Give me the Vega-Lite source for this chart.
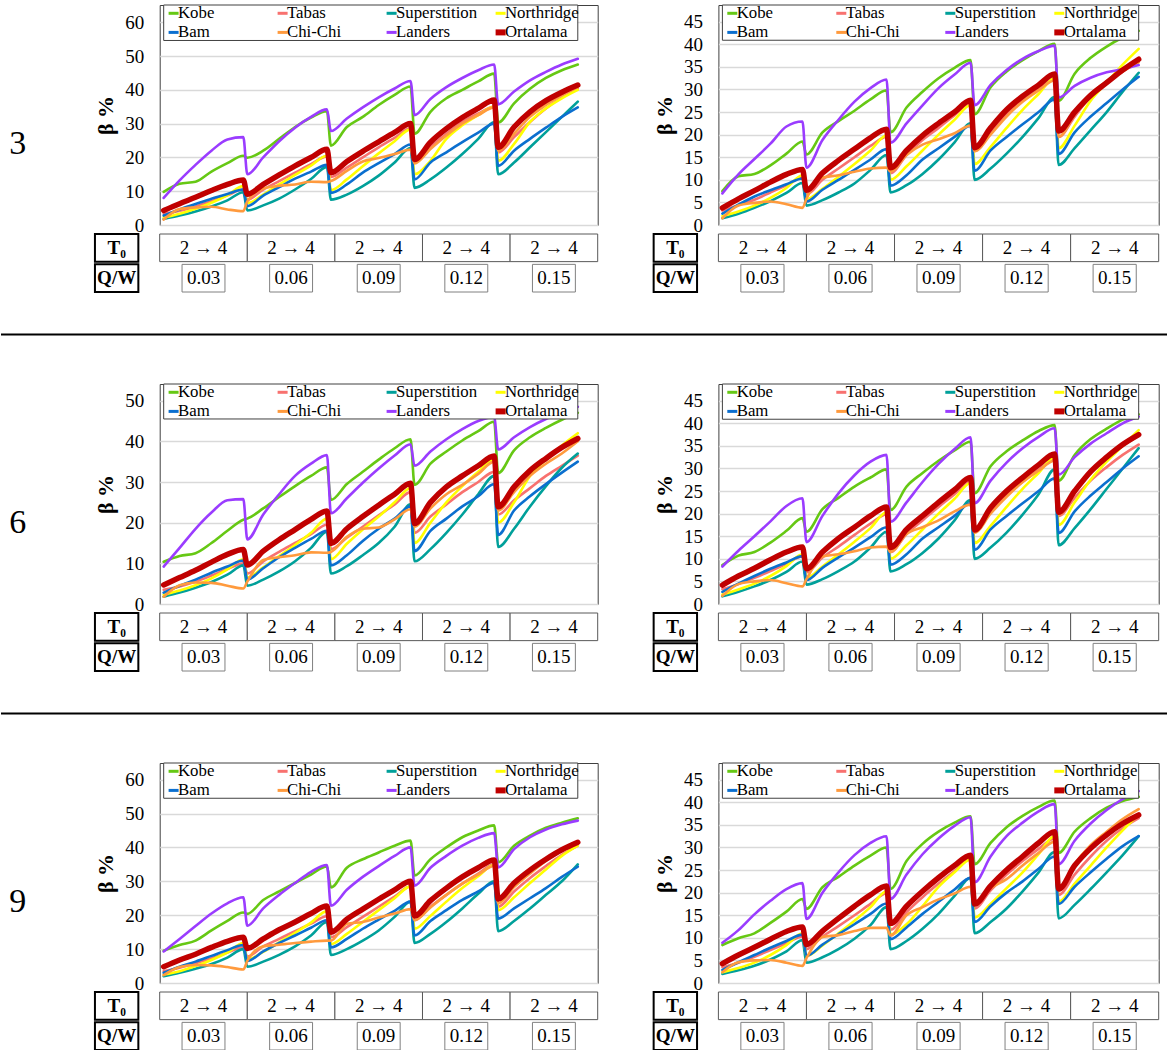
{
  "$schema": "https://vega.github.io/schema/vega-lite/v6.json",
  "padding": {"left": 0, "top": 2, "right": 0, "bottom": 0},
  "background": "white",
  "config": {
    "font": "Liberation Serif",
    "view": {"stroke": null},
    "axis": {
      "labelFont": "Liberation Serif", "labelFontSize": 19, "labelColor": "black", "labelOverlap": false,
      "titleFont": "Liberation Serif", "titleFontSize": 22, "titleFontWeight": "bold", "titleColor": "black",
      "domain": false, "ticks": false, "tickSize": 0, "labelPadding": 16, "titlePadding": 7,
      "gridColor": "#d9d9d9", "gridWidth": 1.3
    },
    "legend": {
      "symbolType": "stroke", "symbolSize": 100, "symbolStrokeWidth": 3,
      "labelFont": "Liberation Serif", "labelFontSize": 16.8, "labelColor": "black", "labelLimit": 0
    },
    "text": {"font": "Liberation Serif", "color": "black"}
  },
  "datasets": {
    "cases": [
      {"row": "T0", "qw": "0.03", "label": "2 → 4"},
      {"row": "T0", "qw": "0.06", "label": "2 → 4"},
      {"row": "T0", "qw": "0.09", "label": "2 → 4"},
      {"row": "T0", "qw": "0.12", "label": "2 → 4"},
      {"row": "T0", "qw": "0.15", "label": "2 → 4"},
      {"row": "Q/W", "qw": "0.03", "label": "0.03"},
      {"row": "Q/W", "qw": "0.06", "label": "0.06"},
      {"row": "Q/W", "qw": "0.09", "label": "0.09"},
      {"row": "Q/W", "qw": "0.12", "label": "0.12"},
      {"row": "Q/W", "qw": "0.15", "label": "0.15"}
    ],
    "n3_left": [
      {"run":1,"Kobe":9.8,"Tabas":3.3,"Superstition":1.8,"Northridge":2.2,"Bam":2.8,"Chi-Chi":1.6,"Landers":8,"Ortalama":4.3},
      {"run":5,"Kobe":12.2,"Tabas":4.2,"Superstition":2.8,"Northridge":3.3,"Bam":4.6,"Chi-Chi":4.7,"Landers":13.2,"Ortalama":6.3},
      {"run":9,"Kobe":12.8,"Tabas":5.5,"Superstition":4,"Northridge":4.8,"Bam":6.2,"Chi-Chi":5.2,"Landers":17.8,"Ortalama":8.2},
      {"run":13,"Kobe":15.8,"Tabas":7,"Superstition":5.5,"Northridge":6.6,"Bam":7.8,"Chi-Chi":5.4,"Landers":22,"Ortalama":10.2},
      {"run":17,"Kobe":18.3,"Tabas":8.8,"Superstition":7.3,"Northridge":8.8,"Bam":9.2,"Chi-Chi":4.6,"Landers":25.3,"Ortalama":12},
      {"run":21,"Kobe":20.5,"Tabas":10.5,"Superstition":9.7,"Northridge":11.5,"Bam":10.5,"Chi-Chi":4.1,"Landers":26,"Ortalama":13.3},
      {"run":22,"Kobe":19.9,"Tabas":7.5,"Superstition":4.3,"Northridge":6.5,"Bam":5.6,"Chi-Chi":7,"Landers":15,"Ortalama":9.1},
      {"run":26,"Kobe":22,"Tabas":10.5,"Superstition":5.8,"Northridge":9,"Bam":8.7,"Chi-Chi":10.8,"Landers":20,"Ortalama":12},
      {"run":30,"Kobe":25.5,"Tabas":13,"Superstition":7.8,"Northridge":12,"Bam":11.2,"Chi-Chi":11.6,"Landers":24.8,"Ortalama":14.8},
      {"run":34,"Kobe":29,"Tabas":15.5,"Superstition":10.5,"Northridge":14.8,"Bam":13.7,"Chi-Chi":12,"Landers":28.8,"Ortalama":17.5},
      {"run":38,"Kobe":31.8,"Tabas":18,"Superstition":13.6,"Northridge":17.6,"Bam":15.8,"Chi-Chi":12.8,"Landers":32,"Ortalama":20},
      {"run":42,"Kobe":33.7,"Tabas":20.3,"Superstition":17.2,"Northridge":20.5,"Bam":17.8,"Chi-Chi":12.7,"Landers":34.2,"Ortalama":22.4},
      {"run":43,"Kobe":23.5,"Tabas":14.2,"Superstition":7.5,"Northridge":10.3,"Bam":9.5,"Chi-Chi":13,"Landers":27.8,"Ortalama":15.5},
      {"run":47,"Kobe":29,"Tabas":17,"Superstition":9,"Northridge":13.5,"Bam":12,"Chi-Chi":16,"Landers":31.5,"Ortalama":18.8},
      {"run":51,"Kobe":32,"Tabas":20,"Superstition":11.5,"Northridge":17.4,"Bam":15.5,"Chi-Chi":18.8,"Landers":34.8,"Ortalama":21.8},
      {"run":55,"Kobe":35.5,"Tabas":23,"Superstition":14.6,"Northridge":21.2,"Bam":18.3,"Chi-Chi":19.8,"Landers":37.8,"Ortalama":24.6},
      {"run":59,"Kobe":38.5,"Tabas":25.8,"Superstition":18.5,"Northridge":24.8,"Bam":21,"Chi-Chi":21,"Landers":40.4,"Ortalama":27.4},
      {"run":63,"Kobe":41,"Tabas":28.6,"Superstition":22.8,"Northridge":28.3,"Bam":23.8,"Chi-Chi":22.3,"Landers":42.6,"Ortalama":30},
      {"run":64,"Kobe":27,"Tabas":18.5,"Superstition":11,"Northridge":15,"Bam":13.5,"Chi-Chi":18.2,"Landers":32.5,"Ortalama":19.4},
      {"run":68,"Kobe":33.5,"Tabas":23,"Superstition":13.5,"Northridge":19,"Bam":18.5,"Chi-Chi":22.5,"Landers":37.3,"Ortalama":24.5},
      {"run":72,"Kobe":37.5,"Tabas":27,"Superstition":17,"Northridge":25.5,"Bam":21.5,"Chi-Chi":26.5,"Landers":40.8,"Ortalama":28.5},
      {"run":76,"Kobe":40,"Tabas":30.5,"Superstition":21,"Northridge":29.5,"Bam":24.5,"Chi-Chi":30,"Landers":43.5,"Ortalama":31.8},
      {"run":80,"Kobe":42.5,"Tabas":33,"Superstition":25.5,"Northridge":32.5,"Bam":27.3,"Chi-Chi":32.5,"Landers":45.8,"Ortalama":34.5},
      {"run":84,"Kobe":44.8,"Tabas":35,"Superstition":30.5,"Northridge":35,"Bam":30,"Chi-Chi":34.8,"Landers":47.5,"Ortalama":37},
      {"run":85,"Kobe":30.3,"Tabas":21.5,"Superstition":15,"Northridge":19,"Bam":17.5,"Chi-Chi":22,"Landers":35.7,"Ortalama":23},
      {"run":89,"Kobe":36,"Tabas":26,"Superstition":18.5,"Northridge":24,"Bam":22,"Chi-Chi":27,"Landers":39.5,"Ortalama":29},
      {"run":93,"Kobe":40.3,"Tabas":30.5,"Superstition":23,"Northridge":30.5,"Bam":25.5,"Chi-Chi":32,"Landers":42.8,"Ortalama":33.5},
      {"run":97,"Kobe":43.5,"Tabas":34.5,"Superstition":27.5,"Northridge":34.5,"Bam":28.8,"Chi-Chi":35.5,"Landers":45.3,"Ortalama":36.8},
      {"run":101,"Kobe":45.8,"Tabas":37.8,"Superstition":32,"Northridge":37.5,"Bam":32,"Chi-Chi":38.5,"Landers":47.5,"Ortalama":39.3},
      {"run":105,"Kobe":47.5,"Tabas":40.3,"Superstition":36.5,"Northridge":40,"Bam":34.8,"Chi-Chi":40.8,"Landers":49.2,"Ortalama":41.4}
    ],
    "n3_right": [
      {"run":1,"Kobe":7.5,"Tabas":3.2,"Superstition":1.5,"Northridge":2,"Bam":2.5,"Chi-Chi":1.5,"Landers":7,"Ortalama":3.8},
      {"run":5,"Kobe":10.8,"Tabas":4.4,"Superstition":2.5,"Northridge":3,"Bam":4.5,"Chi-Chi":4.3,"Landers":11.2,"Ortalama":5.8},
      {"run":9,"Kobe":11.3,"Tabas":5.6,"Superstition":3.8,"Northridge":4.3,"Bam":6.3,"Chi-Chi":4.9,"Landers":14.6,"Ortalama":7.6},
      {"run":13,"Kobe":13.2,"Tabas":7.2,"Superstition":5.3,"Northridge":6,"Bam":7.7,"Chi-Chi":5.2,"Landers":18,"Ortalama":9.5},
      {"run":17,"Kobe":15.8,"Tabas":8.8,"Superstition":7.1,"Northridge":8.2,"Bam":9,"Chi-Chi":4.6,"Landers":21.8,"Ortalama":11.2},
      {"run":21,"Kobe":18.5,"Tabas":10.4,"Superstition":9.3,"Northridge":11,"Bam":10.3,"Chi-Chi":3.8,"Landers":22.9,"Ortalama":12.3},
      {"run":22,"Kobe":15.6,"Tabas":6.8,"Superstition":4.3,"Northridge":5.7,"Bam":5.2,"Chi-Chi":5.8,"Landers":12.7,"Ortalama":7.7},
      {"run":26,"Kobe":20.5,"Tabas":10,"Superstition":5.5,"Northridge":8,"Bam":7.8,"Chi-Chi":10.5,"Landers":18.8,"Ortalama":11.5},
      {"run":30,"Kobe":23,"Tabas":12.5,"Superstition":7.2,"Northridge":10.7,"Bam":10,"Chi-Chi":11,"Landers":23.3,"Ortalama":14.3},
      {"run":34,"Kobe":25.3,"Tabas":15,"Superstition":9.2,"Northridge":13.5,"Bam":12.2,"Chi-Chi":11.8,"Landers":27.3,"Ortalama":16.8},
      {"run":38,"Kobe":27.8,"Tabas":17.5,"Superstition":12.2,"Northridge":16.5,"Bam":14.5,"Chi-Chi":12.5,"Landers":30.3,"Ortalama":19.3},
      {"run":42,"Kobe":29.8,"Tabas":19.5,"Superstition":15.5,"Northridge":19.8,"Bam":16.8,"Chi-Chi":12.7,"Landers":32.2,"Ortalama":21.2},
      {"run":43,"Kobe":20.5,"Tabas":11.5,"Superstition":7.2,"Northridge":10,"Bam":8.7,"Chi-Chi":11.8,"Landers":18.2,"Ortalama":12.7},
      {"run":47,"Kobe":26,"Tabas":15.5,"Superstition":8.8,"Northridge":13,"Bam":11,"Chi-Chi":15.5,"Landers":22.5,"Ortalama":16.5},
      {"run":51,"Kobe":29.5,"Tabas":18.8,"Superstition":11.3,"Northridge":16.5,"Bam":14.5,"Chi-Chi":17.8,"Landers":26.5,"Ortalama":19.8},
      {"run":55,"Kobe":32.5,"Tabas":21.5,"Superstition":14.5,"Northridge":20,"Bam":17,"Chi-Chi":19,"Landers":30.3,"Ortalama":22.5},
      {"run":59,"Kobe":34.8,"Tabas":24.3,"Superstition":18.3,"Northridge":23.3,"Bam":19.5,"Chi-Chi":20.3,"Landers":33.3,"Ortalama":25},
      {"run":63,"Kobe":36.5,"Tabas":27,"Superstition":22.5,"Northridge":26.5,"Bam":22,"Chi-Chi":22,"Landers":35.9,"Ortalama":27.6},
      {"run":64,"Kobe":24.5,"Tabas":16.5,"Superstition":10,"Northridge":13.5,"Bam":12,"Chi-Chi":16.3,"Landers":26.5,"Ortalama":17.1},
      {"run":68,"Kobe":30.5,"Tabas":20.5,"Superstition":12.5,"Northridge":17.3,"Bam":16.5,"Chi-Chi":20,"Landers":31,"Ortalama":21.5},
      {"run":72,"Kobe":34,"Tabas":24.5,"Superstition":15.8,"Northridge":21.5,"Bam":19.5,"Chi-Chi":24,"Landers":34.3,"Ortalama":25.5},
      {"run":76,"Kobe":36.5,"Tabas":27.5,"Superstition":19.5,"Northridge":25.5,"Bam":22.3,"Chi-Chi":27.3,"Landers":36.8,"Ortalama":28.5},
      {"run":80,"Kobe":38.5,"Tabas":30,"Superstition":23.7,"Northridge":29,"Bam":25,"Chi-Chi":29.8,"Landers":38.5,"Ortalama":31},
      {"run":84,"Kobe":40.1,"Tabas":32.3,"Superstition":28.3,"Northridge":32.5,"Bam":27.8,"Chi-Chi":32,"Landers":39.7,"Ortalama":33.4},
      {"run":85,"Kobe":27.5,"Tabas":19.5,"Superstition":13.3,"Northridge":17,"Bam":15.7,"Chi-Chi":19.5,"Landers":28.2,"Ortalama":20.8},
      {"run":89,"Kobe":33.5,"Tabas":24,"Superstition":17,"Northridge":22,"Bam":20.5,"Chi-Chi":24.5,"Landers":30.8,"Ortalama":25},
      {"run":93,"Kobe":37,"Tabas":28.5,"Superstition":21,"Northridge":27.5,"Bam":24,"Chi-Chi":29,"Landers":32.6,"Ortalama":28.7},
      {"run":97,"Kobe":39.5,"Tabas":31.3,"Superstition":25,"Northridge":31.5,"Bam":27,"Chi-Chi":31.8,"Landers":33.8,"Ortalama":31.5},
      {"run":101,"Kobe":41.5,"Tabas":34,"Superstition":29.5,"Northridge":35.5,"Bam":30,"Chi-Chi":34,"Landers":34.5,"Ortalama":34.3},
      {"run":105,"Kobe":43,"Tabas":36.2,"Superstition":33.7,"Northridge":39,"Bam":32.8,"Chi-Chi":36,"Landers":35.4,"Ortalama":36.7}
    ],
    "n6_left": [
      {"run":1,"Kobe":10.4,"Tabas":3.5,"Superstition":1.8,"Northridge":2.3,"Bam":2.8,"Chi-Chi":1.8,"Landers":9.2,"Ortalama":4.7},
      {"run":5,"Kobe":11.8,"Tabas":4.3,"Superstition":2.8,"Northridge":3.3,"Bam":4.5,"Chi-Chi":4.6,"Landers":13.8,"Ortalama":6.5},
      {"run":9,"Kobe":12.5,"Tabas":5.5,"Superstition":4,"Northridge":4.6,"Bam":6,"Chi-Chi":5.3,"Landers":18.5,"Ortalama":8.3},
      {"run":13,"Kobe":15,"Tabas":7,"Superstition":5.4,"Northridge":6.3,"Bam":7.7,"Chi-Chi":5.2,"Landers":22.5,"Ortalama":10.3},
      {"run":17,"Kobe":18,"Tabas":8.6,"Superstition":7.2,"Northridge":8.5,"Bam":9.2,"Chi-Chi":4.5,"Landers":25.5,"Ortalama":12.2},
      {"run":21,"Kobe":20.7,"Tabas":10,"Superstition":9.5,"Northridge":11,"Bam":10.7,"Chi-Chi":3.8,"Landers":25.8,"Ortalama":13.4},
      {"run":22,"Kobe":21,"Tabas":7.5,"Superstition":4.5,"Northridge":6.5,"Bam":6,"Chi-Chi":5.5,"Landers":15.9,"Ortalama":9.6},
      {"run":26,"Kobe":23.5,"Tabas":10.5,"Superstition":6,"Northridge":9,"Bam":8.8,"Chi-Chi":10.8,"Landers":22,"Ortalama":13},
      {"run":30,"Kobe":26.3,"Tabas":12.8,"Superstition":8,"Northridge":11.8,"Bam":11.5,"Chi-Chi":11.5,"Landers":27,"Ortalama":15.8},
      {"run":34,"Kobe":29,"Tabas":15,"Superstition":10.5,"Northridge":14.5,"Bam":13.8,"Chi-Chi":12,"Landers":31.5,"Ortalama":18.3},
      {"run":38,"Kobe":31.5,"Tabas":17.2,"Superstition":13.8,"Northridge":17.5,"Bam":16,"Chi-Chi":12.7,"Landers":34.5,"Ortalama":20.8},
      {"run":42,"Kobe":33.6,"Tabas":19.5,"Superstition":17.8,"Northridge":21,"Bam":18,"Chi-Chi":12.6,"Landers":36.6,"Ortalama":22.9},
      {"run":43,"Kobe":25.6,"Tabas":13.5,"Superstition":7.5,"Northridge":11,"Bam":9.5,"Chi-Chi":12.8,"Landers":22.3,"Ortalama":14.9},
      {"run":47,"Kobe":29.5,"Tabas":16.3,"Superstition":9.3,"Northridge":14.8,"Bam":12,"Chi-Chi":16.5,"Landers":26,"Ortalama":18.5},
      {"run":51,"Kobe":32.5,"Tabas":19,"Superstition":12,"Northridge":18.3,"Bam":15.5,"Chi-Chi":18.5,"Landers":29.8,"Ortalama":21.5},
      {"run":55,"Kobe":35.5,"Tabas":21.8,"Superstition":15,"Northridge":21.5,"Bam":18.5,"Chi-Chi":18.8,"Landers":33.3,"Ortalama":24.3},
      {"run":59,"Kobe":38.3,"Tabas":24.5,"Superstition":19,"Northridge":25,"Bam":21,"Chi-Chi":20.8,"Landers":36.5,"Ortalama":27},
      {"run":63,"Kobe":40.5,"Tabas":27.5,"Superstition":24.5,"Northridge":28.5,"Bam":24,"Chi-Chi":23.3,"Landers":39.3,"Ortalama":29.7},
      {"run":64,"Kobe":29.3,"Tabas":17.5,"Superstition":10.5,"Northridge":15,"Bam":13,"Chi-Chi":19,"Landers":34,"Ortalama":19.8},
      {"run":68,"Kobe":34.5,"Tabas":21.5,"Superstition":13.5,"Northridge":20,"Bam":18,"Chi-Chi":23.5,"Landers":37.5,"Ortalama":25},
      {"run":72,"Kobe":37.5,"Tabas":24.5,"Superstition":17.5,"Northridge":25,"Bam":21,"Chi-Chi":27,"Landers":40.5,"Ortalama":28.8},
      {"run":76,"Kobe":40.2,"Tabas":27.5,"Superstition":22,"Northridge":29,"Bam":24,"Chi-Chi":29.3,"Landers":43,"Ortalama":31.5},
      {"run":80,"Kobe":42.5,"Tabas":30,"Superstition":27,"Northridge":32.5,"Bam":26.5,"Chi-Chi":32,"Landers":45,"Ortalama":34},
      {"run":84,"Kobe":44.8,"Tabas":32.5,"Superstition":31.5,"Northridge":35.5,"Bam":29.5,"Chi-Chi":35,"Landers":46,"Ortalama":36.4},
      {"run":85,"Kobe":32.2,"Tabas":22,"Superstition":14,"Northridge":20,"Bam":17,"Chi-Chi":23,"Landers":38,"Ortalama":23.9},
      {"run":89,"Kobe":37.8,"Tabas":25.5,"Superstition":18.5,"Northridge":25,"Bam":23,"Chi-Chi":27.5,"Landers":41,"Ortalama":28.8},
      {"run":93,"Kobe":41,"Tabas":28.5,"Superstition":24,"Northridge":31.5,"Bam":26.5,"Chi-Chi":31.5,"Landers":43.5,"Ortalama":32.8},
      {"run":97,"Kobe":43.3,"Tabas":31.5,"Superstition":29,"Northridge":35.5,"Bam":29.5,"Chi-Chi":34.5,"Landers":45.5,"Ortalama":35.8},
      {"run":101,"Kobe":45.3,"Tabas":34,"Superstition":33.5,"Northridge":39,"Bam":32.3,"Chi-Chi":37,"Landers":47,"Ortalama":38.5},
      {"run":105,"Kobe":47,"Tabas":36.5,"Superstition":37,"Northridge":42,"Bam":35,"Chi-Chi":40,"Landers":48.5,"Ortalama":40.7}
    ],
    "n6_right": [
      {"run":1,"Kobe":8.6,"Tabas":3.3,"Superstition":1.7,"Northridge":2.1,"Bam":2.7,"Chi-Chi":1.8,"Landers":8.3,"Ortalama":4.2},
      {"run":5,"Kobe":10.7,"Tabas":4.4,"Superstition":2.7,"Northridge":3.2,"Bam":4.5,"Chi-Chi":4.4,"Landers":11.8,"Ortalama":6.2},
      {"run":9,"Kobe":11.5,"Tabas":5.8,"Superstition":3.9,"Northridge":4.5,"Bam":6.2,"Chi-Chi":5,"Landers":15,"Ortalama":7.9},
      {"run":13,"Kobe":13.6,"Tabas":7.3,"Superstition":5.3,"Northridge":6.2,"Bam":7.8,"Chi-Chi":5.3,"Landers":18.3,"Ortalama":9.8},
      {"run":17,"Kobe":16.2,"Tabas":8.9,"Superstition":7.1,"Northridge":8.4,"Bam":9.2,"Chi-Chi":4.6,"Landers":21.7,"Ortalama":11.5},
      {"run":21,"Kobe":19,"Tabas":10.5,"Superstition":9.4,"Northridge":11,"Bam":10.6,"Chi-Chi":3.9,"Landers":23.4,"Ortalama":12.6},
      {"run":22,"Kobe":16,"Tabas":7,"Superstition":4.3,"Northridge":5.8,"Bam":5.3,"Chi-Chi":5.5,"Landers":13.7,"Ortalama":7.8},
      {"run":26,"Kobe":21,"Tabas":10.3,"Superstition":5.5,"Northridge":8.3,"Bam":8,"Chi-Chi":10.5,"Landers":19.5,"Ortalama":11.5},
      {"run":30,"Kobe":23.5,"Tabas":12.7,"Superstition":7.3,"Northridge":11,"Bam":10.3,"Chi-Chi":11,"Landers":24.5,"Ortalama":14.5},
      {"run":34,"Kobe":26,"Tabas":15.3,"Superstition":9.4,"Northridge":13.8,"Bam":12.5,"Chi-Chi":11.7,"Landers":28.5,"Ortalama":17},
      {"run":38,"Kobe":28,"Tabas":17.8,"Superstition":12.5,"Northridge":16.8,"Bam":14.8,"Chi-Chi":12.5,"Landers":31.5,"Ortalama":19.5},
      {"run":42,"Kobe":29.8,"Tabas":19.8,"Superstition":16,"Northridge":20.3,"Bam":17,"Chi-Chi":12.7,"Landers":33,"Ortalama":21.5},
      {"run":43,"Kobe":20.8,"Tabas":11.5,"Superstition":7.2,"Northridge":10,"Bam":8.7,"Chi-Chi":11.5,"Landers":18.2,"Ortalama":12.5},
      {"run":47,"Kobe":26,"Tabas":15.5,"Superstition":8.8,"Northridge":13,"Bam":11,"Chi-Chi":15.5,"Landers":22.5,"Ortalama":16.5},
      {"run":51,"Kobe":29,"Tabas":18.5,"Superstition":11.3,"Northridge":16.5,"Bam":14.5,"Chi-Chi":17,"Landers":27,"Ortalama":19.5},
      {"run":55,"Kobe":31.7,"Tabas":21.5,"Superstition":14.5,"Northridge":20,"Bam":17,"Chi-Chi":18.5,"Landers":31,"Ortalama":22.5},
      {"run":59,"Kobe":34,"Tabas":24.3,"Superstition":18.5,"Northridge":23.3,"Bam":19.5,"Chi-Chi":20.5,"Landers":34.3,"Ortalama":25.3},
      {"run":63,"Kobe":35.9,"Tabas":27.3,"Superstition":23,"Northridge":26.8,"Bam":22.3,"Chi-Chi":22,"Landers":36.9,"Ortalama":28},
      {"run":64,"Kobe":24.5,"Tabas":16,"Superstition":10,"Northridge":13.5,"Bam":12,"Chi-Chi":15.8,"Landers":22.3,"Ortalama":16.4},
      {"run":68,"Kobe":30.5,"Tabas":20.3,"Superstition":12.5,"Northridge":17.3,"Bam":16.5,"Chi-Chi":20,"Landers":27.3,"Ortalama":21.3},
      {"run":72,"Kobe":33.8,"Tabas":24,"Superstition":15.8,"Northridge":21.5,"Bam":19.5,"Chi-Chi":23.7,"Landers":31.3,"Ortalama":25},
      {"run":76,"Kobe":36.2,"Tabas":27,"Superstition":19.8,"Northridge":25.5,"Bam":22.3,"Chi-Chi":27,"Landers":34.5,"Ortalama":28},
      {"run":80,"Kobe":38.3,"Tabas":29.7,"Superstition":24.3,"Northridge":29,"Bam":25,"Chi-Chi":29.5,"Landers":37,"Ortalama":30.8},
      {"run":84,"Kobe":39.6,"Tabas":32,"Superstition":29.8,"Northridge":32.5,"Bam":27.8,"Chi-Chi":31.7,"Landers":38.9,"Ortalama":33.2},
      {"run":85,"Kobe":27.3,"Tabas":19.5,"Superstition":13,"Northridge":17.5,"Bam":15.7,"Chi-Chi":19.8,"Landers":28.6,"Ortalama":20.3},
      {"run":89,"Kobe":33,"Tabas":23.5,"Superstition":16.8,"Northridge":22.5,"Bam":20.5,"Chi-Chi":24.5,"Landers":32.5,"Ortalama":25},
      {"run":93,"Kobe":36.5,"Tabas":27.3,"Superstition":21,"Northridge":27.5,"Bam":24,"Chi-Chi":29,"Landers":35.5,"Ortalama":29.3},
      {"run":97,"Kobe":38.8,"Tabas":30.3,"Superstition":25.5,"Northridge":31.5,"Bam":27,"Chi-Chi":32.3,"Landers":37.8,"Ortalama":32.5},
      {"run":101,"Kobe":40.8,"Tabas":33,"Superstition":30,"Northridge":35,"Bam":30,"Chi-Chi":35,"Landers":40,"Ortalama":35.3},
      {"run":105,"Kobe":42,"Tabas":35.3,"Superstition":34.5,"Northridge":38.5,"Bam":32.7,"Chi-Chi":37.2,"Landers":41.5,"Ortalama":37.5}
    ],
    "n9_left": [
      {"run":1,"Kobe":9.5,"Tabas":3.5,"Superstition":2,"Northridge":2.5,"Bam":3,"Chi-Chi":2.3,"Landers":9.3,"Ortalama":4.8},
      {"run":5,"Kobe":11.2,"Tabas":4.5,"Superstition":3,"Northridge":3.5,"Bam":4.8,"Chi-Chi":4.7,"Landers":13,"Ortalama":6.8},
      {"run":9,"Kobe":12.5,"Tabas":5.8,"Superstition":4.2,"Northridge":5,"Bam":6.3,"Chi-Chi":5.3,"Landers":16.8,"Ortalama":8.5},
      {"run":13,"Kobe":15.5,"Tabas":7.3,"Superstition":5.6,"Northridge":6.8,"Bam":8,"Chi-Chi":5.2,"Landers":20.5,"Ortalama":10.5},
      {"run":17,"Kobe":18.3,"Tabas":9,"Superstition":7.5,"Northridge":9,"Bam":9.7,"Chi-Chi":4.7,"Landers":23.5,"Ortalama":12.3},
      {"run":21,"Kobe":20.8,"Tabas":10.5,"Superstition":10,"Northridge":11.8,"Bam":11.2,"Chi-Chi":4,"Landers":25.3,"Ortalama":13.5},
      {"run":22,"Kobe":20.4,"Tabas":7.8,"Superstition":4.8,"Northridge":7,"Bam":6.5,"Chi-Chi":6.5,"Landers":16.9,"Ortalama":10.2},
      {"run":26,"Kobe":24.5,"Tabas":10.8,"Superstition":6.3,"Northridge":9.2,"Bam":9.3,"Chi-Chi":10.8,"Landers":22,"Ortalama":13},
      {"run":30,"Kobe":27,"Tabas":13,"Superstition":8.3,"Northridge":12,"Bam":11.8,"Chi-Chi":11.3,"Landers":26,"Ortalama":15.7},
      {"run":34,"Kobe":29.5,"Tabas":15.3,"Superstition":10.8,"Northridge":14.8,"Bam":14,"Chi-Chi":11.8,"Landers":29.5,"Ortalama":18},
      {"run":38,"Kobe":32,"Tabas":17.5,"Superstition":14,"Northridge":17.8,"Bam":16.3,"Chi-Chi":12.2,"Landers":32.8,"Ortalama":20.5},
      {"run":42,"Kobe":34.4,"Tabas":19.7,"Superstition":18,"Northridge":21.2,"Bam":18.5,"Chi-Chi":12.5,"Landers":34.8,"Ortalama":22.7},
      {"run":43,"Kobe":28.2,"Tabas":13.5,"Superstition":8.3,"Northridge":11.5,"Bam":10.5,"Chi-Chi":12.5,"Landers":22.8,"Ortalama":15},
      {"run":47,"Kobe":34,"Tabas":16.5,"Superstition":10,"Northridge":14.5,"Bam":13,"Chi-Chi":17.5,"Landers":27.5,"Ortalama":18.8},
      {"run":51,"Kobe":36.5,"Tabas":19.5,"Superstition":12.5,"Northridge":18,"Bam":16,"Chi-Chi":18,"Landers":31.3,"Ortalama":21.8},
      {"run":55,"Kobe":38.5,"Tabas":22.5,"Superstition":15.5,"Northridge":21.5,"Bam":18.7,"Chi-Chi":19.3,"Landers":34.5,"Ortalama":24.7},
      {"run":59,"Kobe":40.5,"Tabas":25.5,"Superstition":19.5,"Northridge":25,"Bam":21.3,"Chi-Chi":20.5,"Landers":37.5,"Ortalama":27.5},
      {"run":63,"Kobe":42,"Tabas":28.5,"Superstition":24,"Northridge":28.5,"Bam":24,"Chi-Chi":21.8,"Landers":40,"Ortalama":30},
      {"run":64,"Kobe":31.7,"Tabas":18.5,"Superstition":11.8,"Northridge":16,"Bam":14,"Chi-Chi":18.5,"Landers":28.7,"Ortalama":19.8},
      {"run":68,"Kobe":36.5,"Tabas":22.5,"Superstition":14.5,"Northridge":19.8,"Bam":18.3,"Chi-Chi":22.3,"Landers":34,"Ortalama":24.3},
      {"run":72,"Kobe":40,"Tabas":26,"Superstition":18,"Northridge":24,"Bam":21.5,"Chi-Chi":26,"Landers":37.5,"Ortalama":28},
      {"run":76,"Kobe":43,"Tabas":29.3,"Superstition":22,"Northridge":28,"Bam":24.5,"Chi-Chi":29.3,"Landers":40.5,"Ortalama":31.3},
      {"run":80,"Kobe":45,"Tabas":32.3,"Superstition":26.3,"Northridge":31.5,"Bam":27,"Chi-Chi":32,"Landers":42.8,"Ortalama":34},
      {"run":84,"Kobe":46.5,"Tabas":35,"Superstition":30,"Northridge":34.8,"Bam":29.5,"Chi-Chi":34.5,"Landers":44.2,"Ortalama":36.3},
      {"run":85,"Kobe":35.6,"Tabas":22.5,"Superstition":15.3,"Northridge":21.5,"Bam":19,"Chi-Chi":23.5,"Landers":34.1,"Ortalama":24.8},
      {"run":89,"Kobe":40.5,"Tabas":27,"Superstition":18.3,"Northridge":25.3,"Bam":22,"Chi-Chi":28.3,"Landers":39.5,"Ortalama":29.5},
      {"run":93,"Kobe":43.5,"Tabas":31,"Superstition":22,"Northridge":29.5,"Bam":25,"Chi-Chi":32.3,"Landers":43,"Ortalama":33.3},
      {"run":97,"Kobe":45.8,"Tabas":34.5,"Superstition":26,"Northridge":33.5,"Bam":28,"Chi-Chi":36,"Landers":45.3,"Ortalama":36.5},
      {"run":101,"Kobe":47.3,"Tabas":37.8,"Superstition":30,"Northridge":37.5,"Bam":31.3,"Chi-Chi":39,"Landers":46.8,"Ortalama":39.3},
      {"run":105,"Kobe":48.6,"Tabas":40.5,"Superstition":35,"Northridge":40.5,"Bam":34.3,"Chi-Chi":41,"Landers":47.9,"Ortalama":41.5}
    ],
    "n9_right": [
      {"run":1,"Kobe":8.4,"Tabas":3.5,"Superstition":2,"Northridge":2.4,"Bam":2.9,"Chi-Chi":2.4,"Landers":8.9,"Ortalama":4.3},
      {"run":5,"Kobe":9.9,"Tabas":4.5,"Superstition":2.8,"Northridge":3.3,"Bam":4.6,"Chi-Chi":4.6,"Landers":11.7,"Ortalama":6.2},
      {"run":9,"Kobe":11,"Tabas":5.8,"Superstition":3.8,"Northridge":4.5,"Bam":6.2,"Chi-Chi":5,"Landers":15.2,"Ortalama":7.9},
      {"run":13,"Kobe":13.3,"Tabas":7.3,"Superstition":5.2,"Northridge":6.2,"Bam":7.8,"Chi-Chi":5.1,"Landers":18.2,"Ortalama":9.7},
      {"run":17,"Kobe":15.8,"Tabas":8.8,"Superstition":7,"Northridge":8.4,"Bam":9.3,"Chi-Chi":4.5,"Landers":20.8,"Ortalama":11.4},
      {"run":21,"Kobe":18.6,"Tabas":10.3,"Superstition":9.5,"Northridge":11,"Bam":10.7,"Chi-Chi":3.8,"Landers":22.1,"Ortalama":12.4},
      {"run":22,"Kobe":16.4,"Tabas":7.5,"Superstition":4.5,"Northridge":6,"Bam":6,"Chi-Chi":5.5,"Landers":14.2,"Ortalama":8.5},
      {"run":26,"Kobe":21.2,"Tabas":10.3,"Superstition":5.7,"Northridge":8.3,"Bam":8.5,"Chi-Chi":10.2,"Landers":20,"Ortalama":11.5},
      {"run":30,"Kobe":23.5,"Tabas":12.6,"Superstition":7.5,"Northridge":11,"Bam":10.8,"Chi-Chi":10.6,"Landers":24.5,"Ortalama":14.3},
      {"run":34,"Kobe":26,"Tabas":15,"Superstition":9.8,"Northridge":13.8,"Bam":13,"Chi-Chi":11.5,"Landers":28.3,"Ortalama":17},
      {"run":38,"Kobe":28.2,"Tabas":17.5,"Superstition":12.8,"Northridge":16.8,"Bam":15.3,"Chi-Chi":12.2,"Landers":31,"Ortalama":19.5},
      {"run":42,"Kobe":30,"Tabas":19.8,"Superstition":16.8,"Northridge":20.3,"Bam":17.6,"Chi-Chi":12.2,"Landers":32.5,"Ortalama":21.5},
      {"run":43,"Kobe":20.8,"Tabas":11.8,"Superstition":7.5,"Northridge":10.7,"Bam":9.7,"Chi-Chi":10.5,"Landers":18.6,"Ortalama":13.2},
      {"run":47,"Kobe":27,"Tabas":15.7,"Superstition":9.3,"Northridge":13,"Bam":12.3,"Chi-Chi":15,"Landers":24,"Ortalama":17},
      {"run":51,"Kobe":30.8,"Tabas":19,"Superstition":12,"Northridge":17,"Bam":15.3,"Chi-Chi":16.8,"Landers":28.5,"Ortalama":20.3},
      {"run":55,"Kobe":33.5,"Tabas":22,"Superstition":15.3,"Northridge":21.3,"Bam":18,"Chi-Chi":18.5,"Landers":32,"Ortalama":23.3},
      {"run":59,"Kobe":35.5,"Tabas":24.8,"Superstition":19.3,"Northridge":24.5,"Bam":20.7,"Chi-Chi":19.8,"Landers":34.8,"Ortalama":26},
      {"run":63,"Kobe":36.9,"Tabas":27.5,"Superstition":23.3,"Northridge":27.3,"Bam":23.3,"Chi-Chi":21.3,"Landers":36.7,"Ortalama":28.3},
      {"run":64,"Kobe":26.3,"Tabas":16.5,"Superstition":11,"Northridge":14.5,"Bam":13.5,"Chi-Chi":17.5,"Landers":22.3,"Ortalama":17.5},
      {"run":68,"Kobe":31,"Tabas":20.5,"Superstition":13.5,"Northridge":17.5,"Bam":17,"Chi-Chi":21,"Landers":28,"Ortalama":21.5},
      {"run":72,"Kobe":34.5,"Tabas":24,"Superstition":16.5,"Northridge":21,"Bam":20,"Chi-Chi":23,"Landers":32.5,"Ortalama":25},
      {"run":76,"Kobe":37,"Tabas":27,"Superstition":20.3,"Northridge":24.5,"Bam":22.5,"Chi-Chi":26,"Landers":35.5,"Ortalama":28},
      {"run":80,"Kobe":39,"Tabas":29.7,"Superstition":24.5,"Northridge":28.5,"Bam":25.3,"Chi-Chi":28.8,"Landers":38,"Ortalama":31},
      {"run":84,"Kobe":40.4,"Tabas":32,"Superstition":29,"Northridge":32.5,"Bam":28,"Chi-Chi":31.3,"Landers":39.6,"Ortalama":33.5},
      {"run":85,"Kobe":28.8,"Tabas":19.5,"Superstition":14.3,"Northridge":18,"Bam":17.5,"Chi-Chi":20.5,"Landers":26.3,"Ortalama":20.8},
      {"run":89,"Kobe":33.5,"Tabas":24,"Superstition":17.3,"Northridge":22,"Bam":21.3,"Chi-Chi":26.3,"Landers":31.5,"Ortalama":26},
      {"run":93,"Kobe":36.5,"Tabas":28,"Superstition":20.8,"Northridge":26,"Bam":24.5,"Chi-Chi":30.5,"Landers":35.3,"Ortalama":29.8},
      {"run":97,"Kobe":38.8,"Tabas":31.5,"Superstition":24.5,"Northridge":30,"Bam":27.5,"Chi-Chi":33.5,"Landers":38.3,"Ortalama":32.8},
      {"run":101,"Kobe":40.3,"Tabas":34.3,"Superstition":28.3,"Northridge":33.8,"Bam":30.3,"Chi-Chi":36.3,"Landers":40.7,"Ortalama":35.3},
      {"run":105,"Kobe":41.2,"Tabas":36.5,"Superstition":32.5,"Northridge":37.3,"Bam":32.5,"Chi-Chi":38.5,"Landers":42.5,"Ortalama":37.2}
    ]
  },
  "spacing": 40.5,
  "resolve": {"scale": {"color": "independent"}, "legend": {"color": "independent"}},
  "vconcat": [
    {
      "columns": 5, "bounds": "flush", "align": "each", "spacing": {"row": 9, "column": 21.35},
      "resolve": {"scale": {"color": "independent"}, "legend": {"color": "independent"}},
      "concat": [
        {"width": 37.3, "height": 220, "data": {"values": [{"n": "3"}]}, "mark": {"type": "text", "fontSize": 34, "dy": 29, "dx": -2}, "encoding": {"text": {"field": "n"}}},
        {"width": 1, "height": 1, "data": {"values": []}, "mark": "point"},
        {
          "width": 438, "height": 220, "view": {"stroke": "#404040", "strokeWidth": 1},
          "layer": [
            {
              "data": {"name": "n3_left"},
              "transform": [{"fold": ["Kobe","Tabas","Superstition","Northridge","Bam","Chi-Chi","Landers","Ortalama"], "as": ["record","beta"]}],
              "mark": {"type": "line", "interpolate": "monotone", "strokeCap": "round", "strokeJoin": "round"},
              "encoding": {
                "x": {"field": "run", "type": "quantitative", "scale": {"domain": [1, 105]}, "axis": null},
                "y": {"field": "beta", "type": "quantitative", "scale": {"domain": [0, 65.1], "nice": false}, "axis": {"title": "β %", "values": [0,10,20,30,40,50,60], "labelOverlap": false}},
                "color": {"field": "record", "type": "nominal",
                  "scale": {"domain": ["Kobe","Tabas","Superstition","Northridge","Bam","Chi-Chi","Landers","Ortalama"], "range": ["#66C814","#F8716F","#00A09A","#FFFF00","#0B6FCF","#FF9A3D","#9A3CFF","#C00000"]},
                  "legend": {"title": null, "orient": "none", "legendX": 5.5, "legendY": -2, "padding": 0, "direction": "horizontal", "columns": 4, "gridAlign": "all", "columnPadding": 6, "rowPadding": -5.8, "labelOffset": -4, "encode": {"symbols": {"update": {"strokeWidth": {"signal": "datum.value === 'Ortalama' ? 6 : 3"}}}}}},
                "strokeWidth": {"condition": {"test": "datum.record === 'Ortalama'", "value": 5.5}, "value": 2.6}
              }
            },
            {
              "data": {"values": [{}]},
              "mark": {"type": "rect", "fill": "white", "stroke": "#404040", "strokeWidth": 1},
              "encoding": {"x": {"datum": 1}, "x2": {"datum": 105}, "y": {"datum": 65.1, "axis": {"title": "β %", "values": [0,10,20,30,40,50,60], "labelOverlap": false}}, "y2": {"datum": 54.6}}
            }
          ]
        },
        {"width": 1, "height": 1, "data": {"values": []}, "mark": "point"},
        {
          "width": 440.3, "height": 220, "view": {"stroke": "#404040", "strokeWidth": 1},
          "layer": [
            {
              "data": {"name": "n3_right"},
              "transform": [{"fold": ["Kobe","Tabas","Superstition","Northridge","Bam","Chi-Chi","Landers","Ortalama"], "as": ["record","beta"]}],
              "mark": {"type": "line", "interpolate": "monotone", "strokeCap": "round", "strokeJoin": "round"},
              "encoding": {
                "x": {"field": "run", "type": "quantitative", "scale": {"domain": [1, 105]}, "axis": null},
                "y": {"field": "beta", "type": "quantitative", "scale": {"domain": [0, 48.7], "nice": false}, "axis": {"title": "β %", "values": [0,5,10,15,20,25,30,35,40,45], "labelOverlap": false}},
                "color": {"field": "record", "type": "nominal",
                  "scale": {"domain": ["Kobe","Tabas","Superstition","Northridge","Bam","Chi-Chi","Landers","Ortalama"], "range": ["#66C814","#F8716F","#00A09A","#FFFF00","#0B6FCF","#FF9A3D","#9A3CFF","#C00000"]},
                  "legend": {"title": null, "orient": "none", "legendX": 5.5, "legendY": -2, "padding": 0, "direction": "horizontal", "columns": 4, "gridAlign": "all", "columnPadding": 6, "rowPadding": -5.8, "labelOffset": -4, "encode": {"symbols": {"update": {"strokeWidth": {"signal": "datum.value === 'Ortalama' ? 6 : 3"}}}}}},
                "strokeWidth": {"condition": {"test": "datum.record === 'Ortalama'", "value": 5.5}, "value": 2.6}
              }
            },
            {
              "data": {"values": [{}]},
              "mark": {"type": "rect", "fill": "white", "stroke": "#404040", "strokeWidth": 1},
              "encoding": {"x": {"datum": 1}, "x2": {"datum": 105}, "y": {"datum": 48.7, "axis": {"title": "β %", "values": [0,5,10,15,20,25,30,35,40,45], "labelOverlap": false}}, "y2": {"datum": 40.9}}
            }
          ]
        },
        {"width": 1, "height": 1, "data": {"values": []}, "mark": "point"},
        {
          "width": 78, "height": 58,
          "data": {"values": [{"row": "T0", "label": "T₀"}, {"row": "Q/W", "label": "Q/W"}]},
          "encoding": {
            "x": {"datum": "header", "type": "nominal", "scale": {"type": "band", "paddingInner": 0, "paddingOuter": 0.3986, "align": 1}, "axis": null},
            "y": {"field": "row", "type": "nominal", "scale": {"type": "band", "domain": ["T0","Q/W"], "paddingInner": 0.09, "paddingOuter": 0}, "axis": null}
          },
          "layer": [
            {"mark": {"type": "rect", "fill": "white", "stroke": "black", "strokeWidth": 2}},
            {"mark": {"type": "text", "fontSize": 19, "fontWeight": "bold"}, "encoding": {"text": {"field": "label"}}}
          ]
        },
        {
          "width": 438, "height": 58,
          "data": {"name": "cases"},
          "encoding": {"y": {"field": "row", "type": "nominal", "scale": {"type": "band", "domain": ["T0","Q/W"], "paddingInner": 0.09, "paddingOuter": 0}, "axis": null}},
          "layer": [
            {"transform": [{"filter": "datum.row === 'T0'"}], "mark": {"type": "rect", "fill": "white", "stroke": "#595959", "strokeWidth": 1},
             "encoding": {"x": {"field": "qw", "type": "nominal", "scale": {"type": "band", "paddingInner": 0, "paddingOuter": 0}, "axis": null}}},
            {"transform": [{"filter": "datum.row === 'Q/W'"}], "mark": {"type": "rect", "fill": "white", "stroke": "#808080", "strokeWidth": 1},
             "encoding": {"x": {"field": "qw", "type": "nominal", "scale": {"type": "band", "paddingInner": 0.51, "paddingOuter": 0.255}, "axis": null}}},
            {"mark": {"type": "text", "fontSize": 19},
             "encoding": {"x": {"field": "qw", "type": "nominal", "scale": {"type": "band", "paddingInner": 0, "paddingOuter": 0}, "axis": null}, "text": {"field": "label"}}}
          ],
          "resolve": {"scale": {"x": "independent"}}
        },
        {
          "width": 78, "height": 58,
          "data": {"values": [{"row": "T0", "label": "T₀"}, {"row": "Q/W", "label": "Q/W"}]},
          "encoding": {
            "x": {"datum": "header", "type": "nominal", "scale": {"type": "band", "paddingInner": 0, "paddingOuter": 0.3986, "align": 1}, "axis": null},
            "y": {"field": "row", "type": "nominal", "scale": {"type": "band", "domain": ["T0","Q/W"], "paddingInner": 0.09, "paddingOuter": 0}, "axis": null}
          },
          "layer": [
            {"mark": {"type": "rect", "fill": "white", "stroke": "black", "strokeWidth": 2}},
            {"mark": {"type": "text", "fontSize": 19, "fontWeight": "bold"}, "encoding": {"text": {"field": "label"}}}
          ]
        },
        {
          "width": 440.3, "height": 58,
          "data": {"name": "cases"},
          "encoding": {"y": {"field": "row", "type": "nominal", "scale": {"type": "band", "domain": ["T0","Q/W"], "paddingInner": 0.09, "paddingOuter": 0}, "axis": null}},
          "layer": [
            {"transform": [{"filter": "datum.row === 'T0'"}], "mark": {"type": "rect", "fill": "white", "stroke": "#595959", "strokeWidth": 1},
             "encoding": {"x": {"field": "qw", "type": "nominal", "scale": {"type": "band", "paddingInner": 0, "paddingOuter": 0}, "axis": null}}},
            {"transform": [{"filter": "datum.row === 'Q/W'"}], "mark": {"type": "rect", "fill": "white", "stroke": "#808080", "strokeWidth": 1},
             "encoding": {"x": {"field": "qw", "type": "nominal", "scale": {"type": "band", "paddingInner": 0.51, "paddingOuter": 0.255}, "axis": null}}},
            {"mark": {"type": "text", "fontSize": 19},
             "encoding": {"x": {"field": "qw", "type": "nominal", "scale": {"type": "band", "paddingInner": 0, "paddingOuter": 0}, "axis": null}, "text": {"field": "label"}}}
          ],
          "resolve": {"scale": {"x": "independent"}}
        }
      ]
    },
    {
      "width": 1167, "height": 6, "data": {"values": [{}]},
      "mark": {"type": "rule", "color": "black", "strokeWidth": 2},
      "encoding": {"y": {"datum": 1, "type": "quantitative", "scale": {"domain": [0, 1]}, "axis": null}}
    },
    {
      "columns": 5, "bounds": "flush", "align": "each", "spacing": {"row": 9, "column": 21.35},
      "resolve": {"scale": {"color": "independent"}, "legend": {"color": "independent"}},
      "concat": [
        {"width": 37.3, "height": 220, "data": {"values": [{"n": "6"}]}, "mark": {"type": "text", "fontSize": 34, "dy": 29, "dx": -2}, "encoding": {"text": {"field": "n"}}},
        {"width": 1, "height": 1, "data": {"values": []}, "mark": "point"},
        {
          "width": 438, "height": 220, "view": {"stroke": "#404040", "strokeWidth": 1},
          "layer": [
            {
              "data": {"name": "n6_left"},
              "transform": [{"fold": ["Kobe","Tabas","Superstition","Northridge","Bam","Chi-Chi","Landers","Ortalama"], "as": ["record","beta"]}],
              "mark": {"type": "line", "interpolate": "monotone", "strokeCap": "round", "strokeJoin": "round"},
              "encoding": {
                "x": {"field": "run", "type": "quantitative", "scale": {"domain": [1, 105]}, "axis": null},
                "y": {"field": "beta", "type": "quantitative", "scale": {"domain": [0, 54.1], "nice": false}, "axis": {"title": "β %", "values": [0,10,20,30,40,50], "labelOverlap": false}},
                "color": {"field": "record", "type": "nominal",
                  "scale": {"domain": ["Kobe","Tabas","Superstition","Northridge","Bam","Chi-Chi","Landers","Ortalama"], "range": ["#66C814","#F8716F","#00A09A","#FFFF00","#0B6FCF","#FF9A3D","#9A3CFF","#C00000"]},
                  "legend": {"title": null, "orient": "none", "legendX": 5.5, "legendY": -2, "padding": 0, "direction": "horizontal", "columns": 4, "gridAlign": "all", "columnPadding": 6, "rowPadding": -5.8, "labelOffset": -4, "encode": {"symbols": {"update": {"strokeWidth": {"signal": "datum.value === 'Ortalama' ? 6 : 3"}}}}}},
                "strokeWidth": {"condition": {"test": "datum.record === 'Ortalama'", "value": 5.5}, "value": 2.6}
              }
            },
            {
              "data": {"values": [{}]},
              "mark": {"type": "rect", "fill": "white", "stroke": "#404040", "strokeWidth": 1},
              "encoding": {"x": {"datum": 1}, "x2": {"datum": 105}, "y": {"datum": 54.1, "axis": {"title": "β %", "values": [0,10,20,30,40,50], "labelOverlap": false}}, "y2": {"datum": 45.5}}
            }
          ]
        },
        {"width": 1, "height": 1, "data": {"values": []}, "mark": "point"},
        {
          "width": 440.3, "height": 220, "view": {"stroke": "#404040", "strokeWidth": 1},
          "layer": [
            {
              "data": {"name": "n6_right"},
              "transform": [{"fold": ["Kobe","Tabas","Superstition","Northridge","Bam","Chi-Chi","Landers","Ortalama"], "as": ["record","beta"]}],
              "mark": {"type": "line", "interpolate": "monotone", "strokeCap": "round", "strokeJoin": "round"},
              "encoding": {
                "x": {"field": "run", "type": "quantitative", "scale": {"domain": [1, 105]}, "axis": null},
                "y": {"field": "beta", "type": "quantitative", "scale": {"domain": [0, 48.7], "nice": false}, "axis": {"title": "β %", "values": [0,5,10,15,20,25,30,35,40,45], "labelOverlap": false}},
                "color": {"field": "record", "type": "nominal",
                  "scale": {"domain": ["Kobe","Tabas","Superstition","Northridge","Bam","Chi-Chi","Landers","Ortalama"], "range": ["#66C814","#F8716F","#00A09A","#FFFF00","#0B6FCF","#FF9A3D","#9A3CFF","#C00000"]},
                  "legend": {"title": null, "orient": "none", "legendX": 5.5, "legendY": -2, "padding": 0, "direction": "horizontal", "columns": 4, "gridAlign": "all", "columnPadding": 6, "rowPadding": -5.8, "labelOffset": -4, "encode": {"symbols": {"update": {"strokeWidth": {"signal": "datum.value === 'Ortalama' ? 6 : 3"}}}}}},
                "strokeWidth": {"condition": {"test": "datum.record === 'Ortalama'", "value": 5.5}, "value": 2.6}
              }
            },
            {
              "data": {"values": [{}]},
              "mark": {"type": "rect", "fill": "white", "stroke": "#404040", "strokeWidth": 1},
              "encoding": {"x": {"datum": 1}, "x2": {"datum": 105}, "y": {"datum": 48.7, "axis": {"title": "β %", "values": [0,5,10,15,20,25,30,35,40,45], "labelOverlap": false}}, "y2": {"datum": 40.9}}
            }
          ]
        },
        {"width": 1, "height": 1, "data": {"values": []}, "mark": "point"},
        {
          "width": 78, "height": 58,
          "data": {"values": [{"row": "T0", "label": "T₀"}, {"row": "Q/W", "label": "Q/W"}]},
          "encoding": {
            "x": {"datum": "header", "type": "nominal", "scale": {"type": "band", "paddingInner": 0, "paddingOuter": 0.3986, "align": 1}, "axis": null},
            "y": {"field": "row", "type": "nominal", "scale": {"type": "band", "domain": ["T0","Q/W"], "paddingInner": 0.09, "paddingOuter": 0}, "axis": null}
          },
          "layer": [
            {"mark": {"type": "rect", "fill": "white", "stroke": "black", "strokeWidth": 2}},
            {"mark": {"type": "text", "fontSize": 19, "fontWeight": "bold"}, "encoding": {"text": {"field": "label"}}}
          ]
        },
        {
          "width": 438, "height": 58,
          "data": {"name": "cases"},
          "encoding": {"y": {"field": "row", "type": "nominal", "scale": {"type": "band", "domain": ["T0","Q/W"], "paddingInner": 0.09, "paddingOuter": 0}, "axis": null}},
          "layer": [
            {"transform": [{"filter": "datum.row === 'T0'"}], "mark": {"type": "rect", "fill": "white", "stroke": "#595959", "strokeWidth": 1},
             "encoding": {"x": {"field": "qw", "type": "nominal", "scale": {"type": "band", "paddingInner": 0, "paddingOuter": 0}, "axis": null}}},
            {"transform": [{"filter": "datum.row === 'Q/W'"}], "mark": {"type": "rect", "fill": "white", "stroke": "#808080", "strokeWidth": 1},
             "encoding": {"x": {"field": "qw", "type": "nominal", "scale": {"type": "band", "paddingInner": 0.51, "paddingOuter": 0.255}, "axis": null}}},
            {"mark": {"type": "text", "fontSize": 19},
             "encoding": {"x": {"field": "qw", "type": "nominal", "scale": {"type": "band", "paddingInner": 0, "paddingOuter": 0}, "axis": null}, "text": {"field": "label"}}}
          ],
          "resolve": {"scale": {"x": "independent"}}
        },
        {
          "width": 78, "height": 58,
          "data": {"values": [{"row": "T0", "label": "T₀"}, {"row": "Q/W", "label": "Q/W"}]},
          "encoding": {
            "x": {"datum": "header", "type": "nominal", "scale": {"type": "band", "paddingInner": 0, "paddingOuter": 0.3986, "align": 1}, "axis": null},
            "y": {"field": "row", "type": "nominal", "scale": {"type": "band", "domain": ["T0","Q/W"], "paddingInner": 0.09, "paddingOuter": 0}, "axis": null}
          },
          "layer": [
            {"mark": {"type": "rect", "fill": "white", "stroke": "black", "strokeWidth": 2}},
            {"mark": {"type": "text", "fontSize": 19, "fontWeight": "bold"}, "encoding": {"text": {"field": "label"}}}
          ]
        },
        {
          "width": 440.3, "height": 58,
          "data": {"name": "cases"},
          "encoding": {"y": {"field": "row", "type": "nominal", "scale": {"type": "band", "domain": ["T0","Q/W"], "paddingInner": 0.09, "paddingOuter": 0}, "axis": null}},
          "layer": [
            {"transform": [{"filter": "datum.row === 'T0'"}], "mark": {"type": "rect", "fill": "white", "stroke": "#595959", "strokeWidth": 1},
             "encoding": {"x": {"field": "qw", "type": "nominal", "scale": {"type": "band", "paddingInner": 0, "paddingOuter": 0}, "axis": null}}},
            {"transform": [{"filter": "datum.row === 'Q/W'"}], "mark": {"type": "rect", "fill": "white", "stroke": "#808080", "strokeWidth": 1},
             "encoding": {"x": {"field": "qw", "type": "nominal", "scale": {"type": "band", "paddingInner": 0.51, "paddingOuter": 0.255}, "axis": null}}},
            {"mark": {"type": "text", "fontSize": 19},
             "encoding": {"x": {"field": "qw", "type": "nominal", "scale": {"type": "band", "paddingInner": 0, "paddingOuter": 0}, "axis": null}, "text": {"field": "label"}}}
          ],
          "resolve": {"scale": {"x": "independent"}}
        }
      ]
    },
    {
      "width": 1167, "height": 6, "data": {"values": [{}]},
      "mark": {"type": "rule", "color": "black", "strokeWidth": 2},
      "encoding": {"y": {"datum": 1, "type": "quantitative", "scale": {"domain": [0, 1]}, "axis": null}}
    },
    {
      "columns": 5, "bounds": "flush", "align": "each", "spacing": {"row": 9, "column": 21.35},
      "resolve": {"scale": {"color": "independent"}, "legend": {"color": "independent"}},
      "concat": [
        {"width": 37.3, "height": 220, "data": {"values": [{"n": "9"}]}, "mark": {"type": "text", "fontSize": 34, "dy": 29, "dx": -2}, "encoding": {"text": {"field": "n"}}},
        {"width": 1, "height": 1, "data": {"values": []}, "mark": "point"},
        {
          "width": 438, "height": 220, "view": {"stroke": "#404040", "strokeWidth": 1},
          "layer": [
            {
              "data": {"name": "n9_left"},
              "transform": [{"fold": ["Kobe","Tabas","Superstition","Northridge","Bam","Chi-Chi","Landers","Ortalama"], "as": ["record","beta"]}],
              "mark": {"type": "line", "interpolate": "monotone", "strokeCap": "round", "strokeJoin": "round"},
              "encoding": {
                "x": {"field": "run", "type": "quantitative", "scale": {"domain": [1, 105]}, "axis": null},
                "y": {"field": "beta", "type": "quantitative", "scale": {"domain": [0, 64.9], "nice": false}, "axis": {"title": "β %", "values": [0,10,20,30,40,50,60], "labelOverlap": false}},
                "color": {"field": "record", "type": "nominal",
                  "scale": {"domain": ["Kobe","Tabas","Superstition","Northridge","Bam","Chi-Chi","Landers","Ortalama"], "range": ["#66C814","#F8716F","#00A09A","#FFFF00","#0B6FCF","#FF9A3D","#9A3CFF","#C00000"]},
                  "legend": {"title": null, "orient": "none", "legendX": 5.5, "legendY": -2, "padding": 0, "direction": "horizontal", "columns": 4, "gridAlign": "all", "columnPadding": 6, "rowPadding": -5.8, "labelOffset": -4, "encode": {"symbols": {"update": {"strokeWidth": {"signal": "datum.value === 'Ortalama' ? 6 : 3"}}}}}},
                "strokeWidth": {"condition": {"test": "datum.record === 'Ortalama'", "value": 5.5}, "value": 2.6}
              }
            },
            {
              "data": {"values": [{}]},
              "mark": {"type": "rect", "fill": "white", "stroke": "#404040", "strokeWidth": 1},
              "encoding": {"x": {"datum": 1}, "x2": {"datum": 105}, "y": {"datum": 64.9, "axis": {"title": "β %", "values": [0,10,20,30,40,50,60], "labelOverlap": false}}, "y2": {"datum": 54.5}}
            }
          ]
        },
        {"width": 1, "height": 1, "data": {"values": []}, "mark": "point"},
        {
          "width": 440.3, "height": 220, "view": {"stroke": "#404040", "strokeWidth": 1},
          "layer": [
            {
              "data": {"name": "n9_right"},
              "transform": [{"fold": ["Kobe","Tabas","Superstition","Northridge","Bam","Chi-Chi","Landers","Ortalama"], "as": ["record","beta"]}],
              "mark": {"type": "line", "interpolate": "monotone", "strokeCap": "round", "strokeJoin": "round"},
              "encoding": {
                "x": {"field": "run", "type": "quantitative", "scale": {"domain": [1, 105]}, "axis": null},
                "y": {"field": "beta", "type": "quantitative", "scale": {"domain": [0, 48.7], "nice": false}, "axis": {"title": "β %", "values": [0,5,10,15,20,25,30,35,40,45], "labelOverlap": false}},
                "color": {"field": "record", "type": "nominal",
                  "scale": {"domain": ["Kobe","Tabas","Superstition","Northridge","Bam","Chi-Chi","Landers","Ortalama"], "range": ["#66C814","#F8716F","#00A09A","#FFFF00","#0B6FCF","#FF9A3D","#9A3CFF","#C00000"]},
                  "legend": {"title": null, "orient": "none", "legendX": 5.5, "legendY": -2, "padding": 0, "direction": "horizontal", "columns": 4, "gridAlign": "all", "columnPadding": 6, "rowPadding": -5.8, "labelOffset": -4, "encode": {"symbols": {"update": {"strokeWidth": {"signal": "datum.value === 'Ortalama' ? 6 : 3"}}}}}},
                "strokeWidth": {"condition": {"test": "datum.record === 'Ortalama'", "value": 5.5}, "value": 2.6}
              }
            },
            {
              "data": {"values": [{}]},
              "mark": {"type": "rect", "fill": "white", "stroke": "#404040", "strokeWidth": 1},
              "encoding": {"x": {"datum": 1}, "x2": {"datum": 105}, "y": {"datum": 48.7, "axis": {"title": "β %", "values": [0,5,10,15,20,25,30,35,40,45], "labelOverlap": false}}, "y2": {"datum": 40.9}}
            }
          ]
        },
        {"width": 1, "height": 1, "data": {"values": []}, "mark": "point"},
        {
          "width": 78, "height": 58,
          "data": {"values": [{"row": "T0", "label": "T₀"}, {"row": "Q/W", "label": "Q/W"}]},
          "encoding": {
            "x": {"datum": "header", "type": "nominal", "scale": {"type": "band", "paddingInner": 0, "paddingOuter": 0.3986, "align": 1}, "axis": null},
            "y": {"field": "row", "type": "nominal", "scale": {"type": "band", "domain": ["T0","Q/W"], "paddingInner": 0.09, "paddingOuter": 0}, "axis": null}
          },
          "layer": [
            {"mark": {"type": "rect", "fill": "white", "stroke": "black", "strokeWidth": 2}},
            {"mark": {"type": "text", "fontSize": 19, "fontWeight": "bold"}, "encoding": {"text": {"field": "label"}}}
          ]
        },
        {
          "width": 438, "height": 58,
          "data": {"name": "cases"},
          "encoding": {"y": {"field": "row", "type": "nominal", "scale": {"type": "band", "domain": ["T0","Q/W"], "paddingInner": 0.09, "paddingOuter": 0}, "axis": null}},
          "layer": [
            {"transform": [{"filter": "datum.row === 'T0'"}], "mark": {"type": "rect", "fill": "white", "stroke": "#595959", "strokeWidth": 1},
             "encoding": {"x": {"field": "qw", "type": "nominal", "scale": {"type": "band", "paddingInner": 0, "paddingOuter": 0}, "axis": null}}},
            {"transform": [{"filter": "datum.row === 'Q/W'"}], "mark": {"type": "rect", "fill": "white", "stroke": "#808080", "strokeWidth": 1},
             "encoding": {"x": {"field": "qw", "type": "nominal", "scale": {"type": "band", "paddingInner": 0.51, "paddingOuter": 0.255}, "axis": null}}},
            {"mark": {"type": "text", "fontSize": 19},
             "encoding": {"x": {"field": "qw", "type": "nominal", "scale": {"type": "band", "paddingInner": 0, "paddingOuter": 0}, "axis": null}, "text": {"field": "label"}}}
          ],
          "resolve": {"scale": {"x": "independent"}}
        },
        {
          "width": 78, "height": 58,
          "data": {"values": [{"row": "T0", "label": "T₀"}, {"row": "Q/W", "label": "Q/W"}]},
          "encoding": {
            "x": {"datum": "header", "type": "nominal", "scale": {"type": "band", "paddingInner": 0, "paddingOuter": 0.3986, "align": 1}, "axis": null},
            "y": {"field": "row", "type": "nominal", "scale": {"type": "band", "domain": ["T0","Q/W"], "paddingInner": 0.09, "paddingOuter": 0}, "axis": null}
          },
          "layer": [
            {"mark": {"type": "rect", "fill": "white", "stroke": "black", "strokeWidth": 2}},
            {"mark": {"type": "text", "fontSize": 19, "fontWeight": "bold"}, "encoding": {"text": {"field": "label"}}}
          ]
        },
        {
          "width": 440.3, "height": 58,
          "data": {"name": "cases"},
          "encoding": {"y": {"field": "row", "type": "nominal", "scale": {"type": "band", "domain": ["T0","Q/W"], "paddingInner": 0.09, "paddingOuter": 0}, "axis": null}},
          "layer": [
            {"transform": [{"filter": "datum.row === 'T0'"}], "mark": {"type": "rect", "fill": "white", "stroke": "#595959", "strokeWidth": 1},
             "encoding": {"x": {"field": "qw", "type": "nominal", "scale": {"type": "band", "paddingInner": 0, "paddingOuter": 0}, "axis": null}}},
            {"transform": [{"filter": "datum.row === 'Q/W'"}], "mark": {"type": "rect", "fill": "white", "stroke": "#808080", "strokeWidth": 1},
             "encoding": {"x": {"field": "qw", "type": "nominal", "scale": {"type": "band", "paddingInner": 0.51, "paddingOuter": 0.255}, "axis": null}}},
            {"mark": {"type": "text", "fontSize": 19},
             "encoding": {"x": {"field": "qw", "type": "nominal", "scale": {"type": "band", "paddingInner": 0, "paddingOuter": 0}, "axis": null}, "text": {"field": "label"}}}
          ],
          "resolve": {"scale": {"x": "independent"}}
        }
      ]
    }
  ]
}
